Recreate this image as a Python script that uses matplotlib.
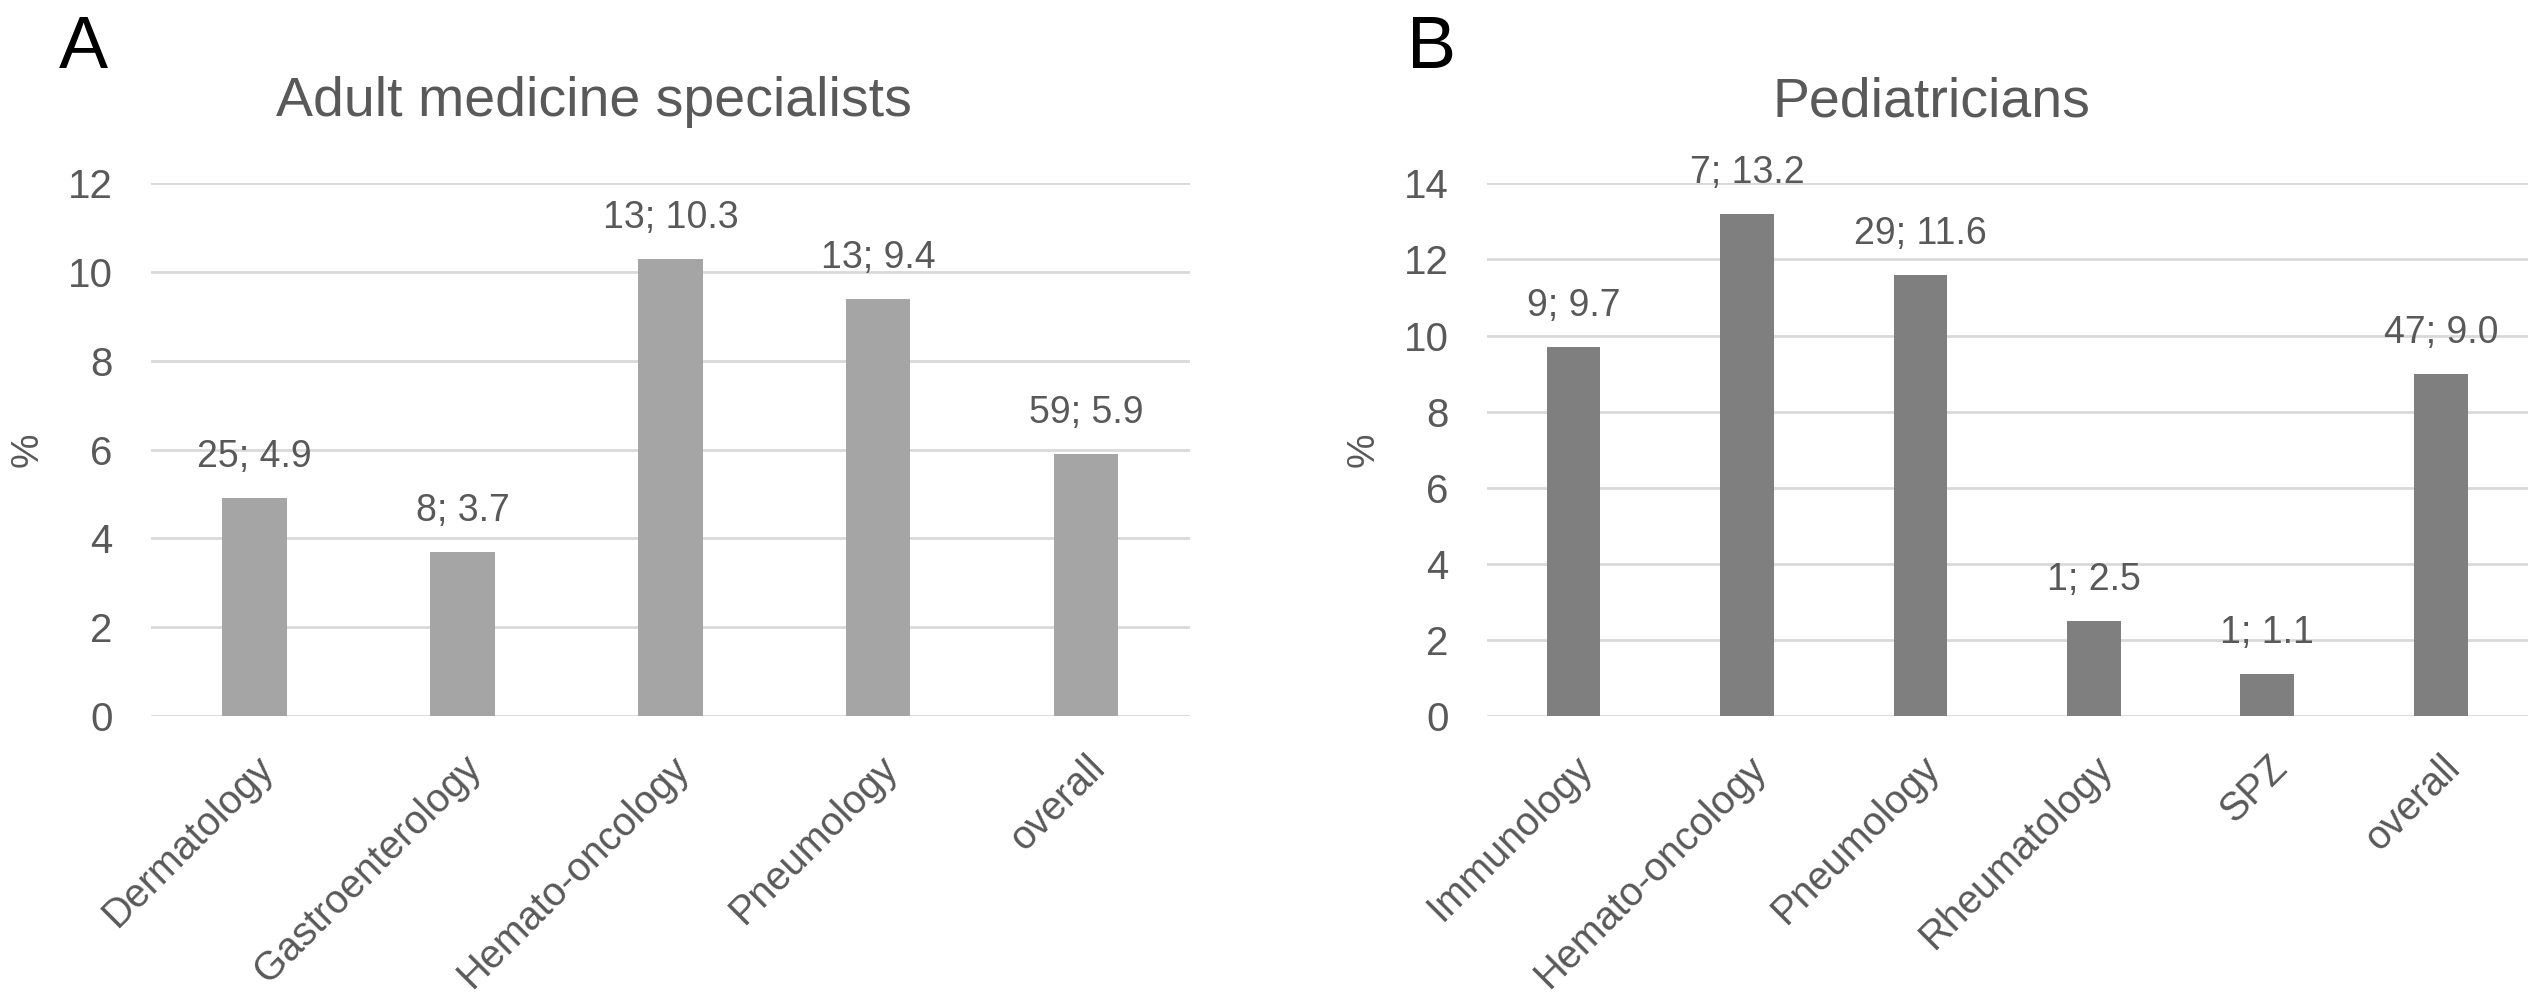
import numpy as np
import matplotlib
matplotlib.use("Agg")
import matplotlib.pyplot as plt

plt.rcParams['font.family'] = ['Liberation Sans', 'DejaVu Sans']

# data
adult_categories = ['Dermatology', 'Gastroenterology', 'Hemato-oncology', 'Pneumology', 'overall']
adult_n = [25, 8, 13, 13, 59]
adult_pct = [4.9, 3.7, 10.3, 9.4, 5.9]

ped_categories = ['Immunology', 'Hemato-oncology', 'Pneumology', 'Rheumatology', 'SPZ', 'overall']
ped_n = [9, 7, 29, 1, 1, 47]
ped_pct = [9.7, 13.2, 11.6, 2.5, 1.1, 9.0]

TEXT = '#595959'
GRID = '#d9d9d9'

fig = plt.figure(figsize=(25.41, 10.08), dpi=100)
fig.patch.set_facecolor('white')


def draw_panel(ax, cats, n, pct, ymax, color):
    x = np.arange(len(cats))
    ax.set_axisbelow(True)
    ax.bar(x, pct, width=0.31, color=color, zorder=3)
    for xi, ni, pi in zip(x, n, pct):
        ax.annotate(f"{ni}; {pi:.1f}", (xi, pi), xytext=(0, 22.3), textcoords='offset points',
                    ha='center', va='baseline', fontsize=27, color=TEXT)
    ax.set_xlim(-0.5, len(cats) - 0.5)
    ax.set_ylim(0, ymax)
    ax.set_yticks(np.arange(0, ymax + 1, 2))
    ax.yaxis.grid(True, color=GRID, linewidth=2.0)
    for s in ax.spines.values():
        s.set_visible(False)
    ax.tick_params(axis='y', length=0, pad=27.4, labelsize=29, labelcolor=TEXT)
    ax.tick_params(axis='x', length=0, pad=23.8, labelsize=28.5, labelcolor=TEXT)
    ax.set_xticks(x)
    ax.set_xticklabels(cats, rotation=45, ha='right', va='top', rotation_mode='anchor')


axA = fig.add_axes([150.7 / 2541, 0.290, 1039.3 / 2541, 0.528])
draw_panel(axA, adult_categories, adult_n, adult_pct, 12, '#a5a5a5')

axB = fig.add_axes([1486.8 / 2541, 0.290, 1040.7 / 2541, 0.528])
draw_panel(axB, ped_categories, ped_n, ped_pct, 14, '#7f7f7f')

# titles, panel letters and y labels
fig.text(594 / 2541, 0.8849, 'Adult medicine specialists', ha='center', va='baseline',
         fontsize=40, color=TEXT)
fig.text(1931 / 2541, 0.8849, 'Pediatricians', ha='center', va='baseline',
         fontsize=40, color=TEXT)
fig.text(59 / 2541, 0.9325, 'A', ha='left', va='baseline', fontsize=53, color='black')
fig.text(1406.6 / 2541, 0.9325, 'B', ha='left', va='baseline', fontsize=53, color='black')
fig.text(28 / 2541, 0.5536, '%', rotation=90, ha='center', va='center', fontsize=28, color=TEXT)
fig.text(1364 / 2541, 0.5536, '%', rotation=90, ha='center', va='center', fontsize=28, color=TEXT)

fig.savefig('out.png', dpi=100, facecolor='white')
